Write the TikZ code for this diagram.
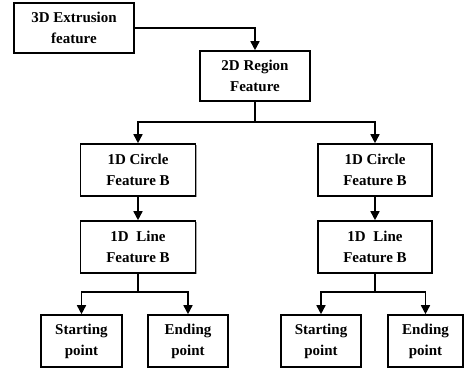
\documentclass[tikz,border=0pt]{standalone}
\usepackage{fontspec}
\setmainfont{Liberation Serif}
\usetikzlibrary{arrows.meta,shadows}
\begin{document}
\begin{tikzpicture}[x=1pt,y=-1pt,
  box/.style={draw,line width=1.6pt,fill=white,align=center,inner sep=0pt,
    font=\fontsize{15}{21}\selectfont\bfseries,
    drop shadow={shadow xshift=1.2pt,shadow yshift=-1.2pt,fill=gray!70,opacity=1}},
  conn/.style={line width=1.6pt},
  arr/.style={conn,-{Triangle[length=9pt,width=9pt]}}]
\useasboundingbox (0,0) rectangle (464,370);
\node[box,minimum width=120pt,minimum height=50pt] (e3) at (74,28) {3D Extrusion\\feature};
\node[box,minimum width=110pt,minimum height=50pt] (r2) at (255,76) {2D Region\\Feature};
\node[box,minimum width=115pt,minimum height=52pt] (cL) at (138,170) {1D Circle\\Feature B};
\node[box,minimum width=114pt,minimum height=52pt] (cR) at (375,170) {1D Circle\\Feature B};
\node[box,minimum width=115pt,minimum height=52pt] (lL) at (138,247) {1D\ \ Line\\Feature B};
\node[box,minimum width=114pt,minimum height=52pt] (lR) at (375,247) {1D\ \ Line\\Feature B};
\node[box,minimum width=81pt,minimum height=52pt] (sL) at (81.5,341) {Starting\\point};
\node[box,minimum width=80pt,minimum height=52pt] (eL) at (188,341) {Ending\\point};
\node[box,minimum width=80pt,minimum height=52pt] (sR) at (321,341) {Starting\\point};
\node[box,minimum width=75pt,minimum height=52pt] (eR) at (425.5,341) {Ending\\point};
\coordinate (j1) at (255,122);
\coordinate (j2) at (138,292);
\coordinate (j3) at (375,292);
\draw[arr] (e3.east) -| (r2.north);
\draw[conn] (r2.south) -- (j1);
\draw[arr] (j1) -| (cL.north);
\draw[arr] (j1) -| (cR.north);
\draw[arr] (cL.south) -- (lL.north);
\draw[arr] (cR.south) -- (lR.north);
\draw[conn] (lL.south) -- (j2);
\draw[arr] (j2) -| (sL.north);
\draw[arr] (j2) -| (eL.north);
\draw[conn] (lR.south) -- (j3);
\draw[arr] (j3) -| (sR.north);
\draw[arr] (j3) -| (eR.north);
\end{tikzpicture}
\end{document}
